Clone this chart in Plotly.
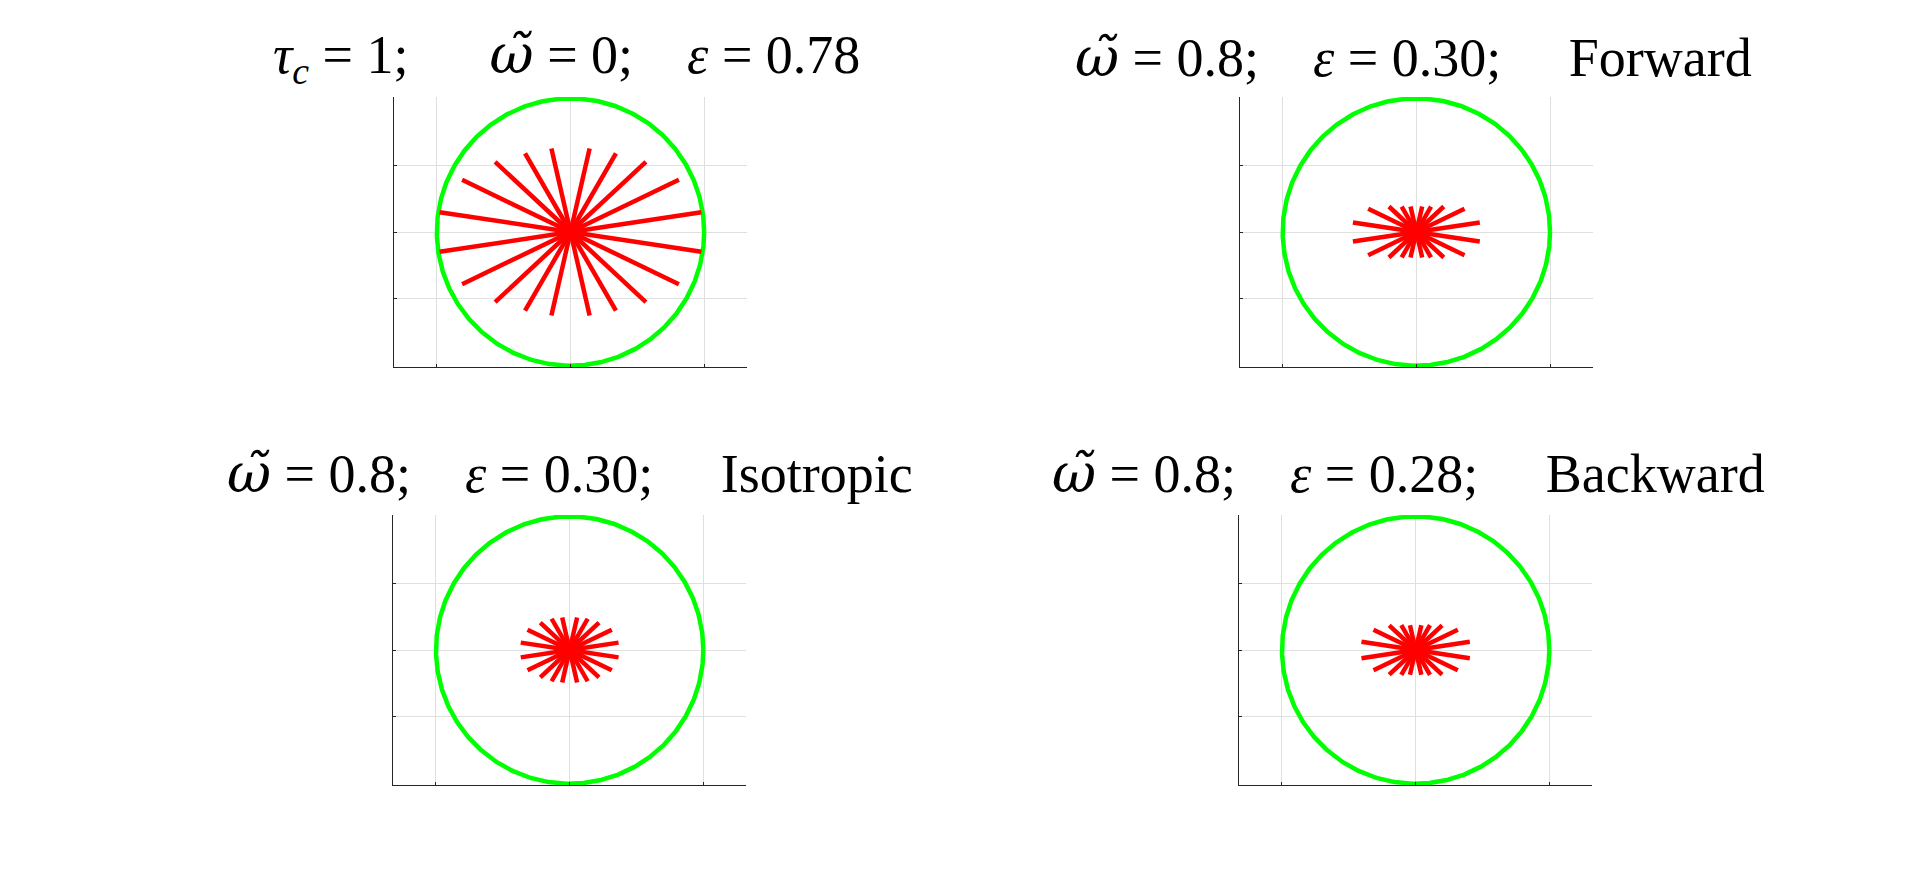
import numpy as np
import plotly.graph_objects as go

# ---- data ----
ANGLES_DEG = [8.6, 25.7, 42.9, 60.0, 77.1, 102.9, 120.0, 137.1, 154.3, 171.4,
              -8.6, -25.7, -42.9, -60.0, -77.1, -102.9, -120.0, -137.1, -154.3, -171.4]

LEN_TAU1 = [0.99, 0.90, 0.77, 0.68, 0.64, 0.64, 0.68, 0.77, 0.90, 0.99,
            0.99, 0.90, 0.77, 0.68, 0.64, 0.64, 0.68, 0.77, 0.90, 0.99]
LEN_FORWARD = [0.48, 0.40, 0.28, 0.22, 0.195, 0.195, 0.22, 0.28, 0.40, 0.48,
               0.48, 0.40, 0.28, 0.22, 0.195, 0.195, 0.22, 0.28, 0.40, 0.48]
LEN_ISOTROPIC = [0.37, 0.35, 0.30, 0.27, 0.25, 0.25, 0.27, 0.30, 0.35, 0.37,
                 0.37, 0.35, 0.30, 0.27, 0.25, 0.25, 0.27, 0.30, 0.35, 0.37]
LEN_BACKWARD = [0.41, 0.35, 0.27, 0.215, 0.19, 0.19, 0.215, 0.27, 0.35, 0.41,
                0.41, 0.35, 0.27, 0.215, 0.19, 0.19, 0.215, 0.27, 0.35, 0.41]

CIRCLE_RADIUS = 1.0

NBSP = "\u00a0"
OMEGA = "<span style=\"font-family:'DejaVu Serif'\"><i>ω\u0303</i></span>"
TITLES = [
    f"<i>τ<sub>c</sub></i> = 1;{NBSP * 6}{OMEGA} = 0;{NBSP * 4}<i>ε</i> = 0.78",
    f"{OMEGA} = 0.8;{NBSP * 4}<i>ε</i> = 0.30;{NBSP * 5}Forward",
    f"{OMEGA} = 0.8;{NBSP * 4}<i>ε</i> = 0.30;{NBSP * 5}Isotropic",
    f"{OMEGA} = 0.8;{NBSP * 4}<i>ε</i> = 0.28;{NBSP * 5}Backward",
]
PANEL_LENGTHS = [LEN_TAU1, LEN_FORWARD, LEN_ISOTROPIC, LEN_BACKWARD]

X_TICKS = [-1, 0, 1]
Y_TICKS = [-0.5, 0, 0.5]

# ---- layout geometry (pixels in the 1920x883 window; page body has 8px margin) ----
OFF = 8
W, H = 1920 - 2 * OFF, 883 - 2 * OFF
BOXES = [(394.3, 746.7, 97, 367), (1240, 1592.7, 97, 367),
         (393.3, 746.0, 515, 785), (1239.3, 1592.0, 515, 785)]
TITLE_POS = [(566, 57), (1413, 57), (570, 474), (1408, 474)]


def px(v):
    return (v - OFF) / W


def py(v):
    return 1 - (v - OFF) / H


fig = go.Figure()
t = np.linspace(0, 2 * np.pi, 721)

layout = dict(
    width=W, height=H, margin=dict(l=0, r=0, t=0, b=0),
    paper_bgcolor="white", plot_bgcolor="white", showlegend=False,
    annotations=[],
)

YR = 1.01
for i, (lens, box, title, tpos) in enumerate(zip(PANEL_LENGTHS, BOXES, TITLES, TITLE_POS)):
    sfx = "" if i == 0 else str(i + 1)
    xa, ya = "x" + sfx, "y" + sfx
    fig.add_trace(go.Scatter(
        x=CIRCLE_RADIUS * np.cos(t), y=CIRCLE_RADIUS * np.sin(t),
        mode="lines", line=dict(color="#00ff00", width=4.5),
        xaxis=xa, yaxis=ya, hoverinfo="skip"))
    xs, ys = [], []
    for a, r in zip(ANGLES_DEG, lens):
        xs += [0, r * np.cos(np.radians(a)), None]
        ys += [0, r * np.sin(np.radians(a)), None]
    fig.add_trace(go.Scatter(
        x=xs, y=ys, mode="lines", line=dict(color="#ff0000", width=4.5),
        xaxis=xa, yaxis=ya, hoverinfo="skip"))

    l, r_, tp, bt = box
    ppu = (bt - tp) / (2 * YR)
    cx = (l + r_) / 2
    xr = [(l - cx) / ppu, (r_ - cx) / ppu]
    common = dict(showline=True, linecolor="#262626", linewidth=1, mirror=False,
                  showgrid=True, gridcolor="#dfdfdf", gridwidth=1, zeroline=False,
                  ticks="inside", ticklen=3, tickcolor="#262626",
                  showticklabels=False, fixedrange=True)
    layout["xaxis" + sfx] = dict(domain=[px(l), px(r_)], range=xr, anchor=ya,
                                 tickvals=X_TICKS, **common)
    layout["yaxis" + sfx] = dict(domain=[py(bt), py(tp)], range=[-YR, YR],
                                 anchor=xa, tickvals=Y_TICKS, **common)
    layout["annotations"].append(dict(
        text=title, x=px(tpos[0]), y=py(tpos[1]), xref="paper", yref="paper",
        xanchor="center", yanchor="middle", showarrow=False,
        font=dict(family="Liberation Serif", size=54, color="black")))

fig.update_layout(**layout)
fig.write_html("out.html")
